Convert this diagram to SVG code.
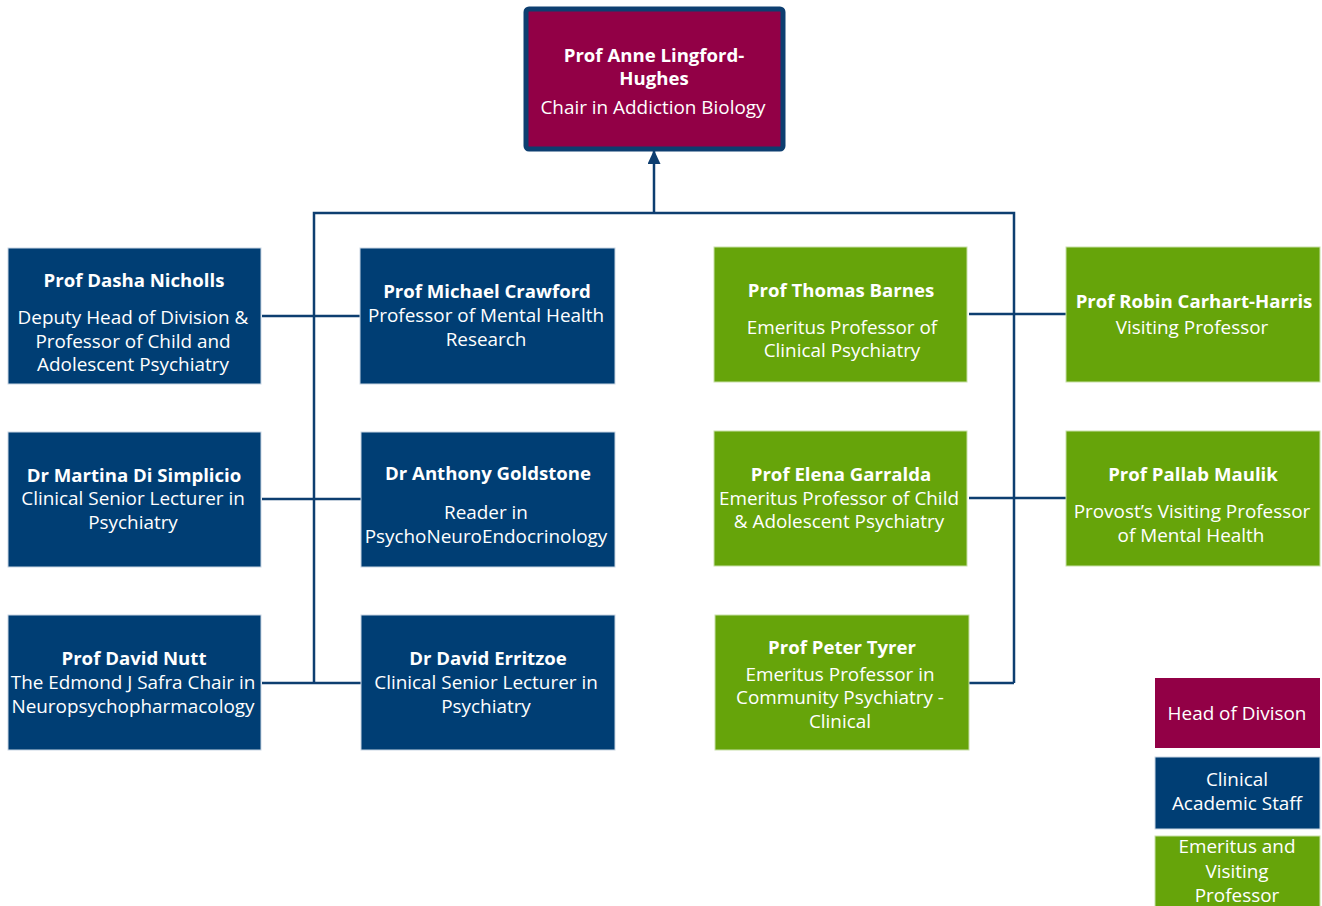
<svg xmlns="http://www.w3.org/2000/svg" width="1322" height="906" viewBox="0 0 1322 906">
  <style>
    text { font-family: "Open Sans", "Noto Sans", "Liberation Sans", sans-serif; fill: #ffffff; text-anchor: middle; font-size: 18.9px; }
    .b { font-weight: bold; font-size: 18.6px; }
    .blue { fill: #003e74; stroke: #c9d6e3; stroke-width: 1; }
    .green { fill: #66a40a; stroke: #c8e0a8; stroke-width: 1; }
    .crimson { fill: #920046; }
    .wire { fill: none; stroke: #0d3e70; stroke-width: 2.5; }
  </style>
  <defs>
    <marker id="arrow" viewBox="0 0 14 13" refX="13" refY="6.5" markerWidth="14" markerHeight="13" markerUnits="userSpaceOnUse" orient="auto">
      <path d="M0,0 L14,6.5 L0,13 z" fill="#0d3e70"/>
    </marker>
  </defs>
  <rect width="1322" height="906" fill="#ffffff"/>

  <g id="connectors">
    <path class="wire" d="M654,213 V151" marker-end="url(#arrow)"/>
    <path class="wire" d="M314,683 V213 H1014 V683"/>
    <path class="wire" d="M262,316 H360"/>
    <path class="wire" d="M262,499 H361"/>
    <path class="wire" d="M262,683 H361"/>
    <path class="wire" d="M969,314 H1066"/>
    <path class="wire" d="M969,498 H1066"/>
    <path class="wire" d="M969,683 H1014"/>
  </g>

  <g id="head">
    <rect x="526" y="9" width="257" height="140" rx="3" class="crimson" stroke="#0d3e70" stroke-width="5"/>
    <text class="b" x="654" y="62">Prof Anne Lingford-</text>
    <text class="b" x="654" y="85">Hughes</text>
    <text x="653" y="114">Chair in Addiction Biology</text>
  </g>

  <g id="nicholls">
    <rect x="8" y="248" width="253" height="136" class="blue"/>
    <text class="b" x="134" y="287">Prof Dasha Nicholls</text>
    <text x="133" y="324">Deputy Head of Division &amp;</text>
    <text x="133" y="348">Professor of Child and</text>
    <text x="133" y="371">Adolescent Psychiatry</text>
  </g>

  <g id="crawford">
    <rect x="360" y="248" width="255" height="136" class="blue"/>
    <text class="b" x="487" y="298">Prof Michael Crawford</text>
    <text x="486" y="322">Professor of Mental Health</text>
    <text x="486" y="346">Research</text>
  </g>

  <g id="disimplicio">
    <rect x="8" y="432" width="253" height="135" class="blue"/>
    <text class="b" x="134" y="482">Dr Martina Di Simplicio</text>
    <text x="133" y="505">Clinical Senior Lecturer in</text>
    <text x="133" y="529">Psychiatry</text>
  </g>

  <g id="goldstone">
    <rect x="361" y="432" width="254" height="135" class="blue"/>
    <text class="b" x="488" y="480">Dr Anthony Goldstone</text>
    <text x="486" y="519">Reader in</text>
    <text x="486" y="543">PsychoNeuroEndocrinology</text>
  </g>

  <g id="nutt">
    <rect x="8" y="615" width="253" height="135" class="blue"/>
    <text class="b" x="134" y="665">Prof David Nutt</text>
    <text x="133" y="689">The Edmond J Safra Chair in</text>
    <text x="133" y="713">Neuropsychopharmacology</text>
  </g>

  <g id="erritzoe">
    <rect x="361" y="615" width="254" height="135" class="blue"/>
    <text class="b" x="488" y="665">Dr David Erritzoe</text>
    <text x="486" y="689">Clinical Senior Lecturer in</text>
    <text x="486" y="713">Psychiatry</text>
  </g>

  <g id="barnes">
    <rect x="714" y="247" width="253" height="135" class="green"/>
    <text class="b" x="841" y="297">Prof Thomas Barnes</text>
    <text x="842" y="334">Emeritus Professor of</text>
    <text x="842" y="357">Clinical Psychiatry</text>
  </g>

  <g id="carhart-harris">
    <rect x="1066" y="247" width="254" height="135" class="green"/>
    <text class="b" x="1194" y="308">Prof Robin Carhart-Harris</text>
    <text x="1192" y="334">Visiting Professor</text>
  </g>

  <g id="garralda">
    <rect x="714" y="431" width="253" height="135" class="green"/>
    <text class="b" x="841" y="481">Prof Elena Garralda</text>
    <text x="839" y="505">Emeritus Professor of Child</text>
    <text x="839" y="528">&amp; Adolescent Psychiatry</text>
  </g>

  <g id="maulik">
    <rect x="1066" y="431" width="254" height="135" class="green"/>
    <text class="b" x="1193" y="481">Prof Pallab Maulik</text>
    <text x="1192" y="518">Provost’s Visiting Professor</text>
    <text x="1191" y="542">of Mental Health</text>
  </g>

  <g id="tyrer">
    <rect x="715" y="615" width="254" height="135" class="green"/>
    <text class="b" x="842" y="654">Prof Peter Tyrer</text>
    <text x="840" y="681">Emeritus Professor in</text>
    <text x="840" y="704">Community Psychiatry -</text>
    <text x="840" y="728">Clinical</text>
  </g>

  <g id="legend">
    <rect x="1155" y="678" width="165" height="70" class="crimson"/>
    <text x="1237" y="720">Head of Divison</text>
    <rect x="1155" y="757" width="165" height="72" class="blue"/>
    <text x="1237" y="786">Clinical</text>
    <text x="1237" y="810">Academic Staff</text>
    <rect x="1155" y="836" width="165" height="75" class="green"/>
    <text x="1237" y="853">Emeritus and</text>
    <text x="1237" y="878">Visiting</text>
    <text x="1237" y="902">Professor</text>
  </g>
</svg>
